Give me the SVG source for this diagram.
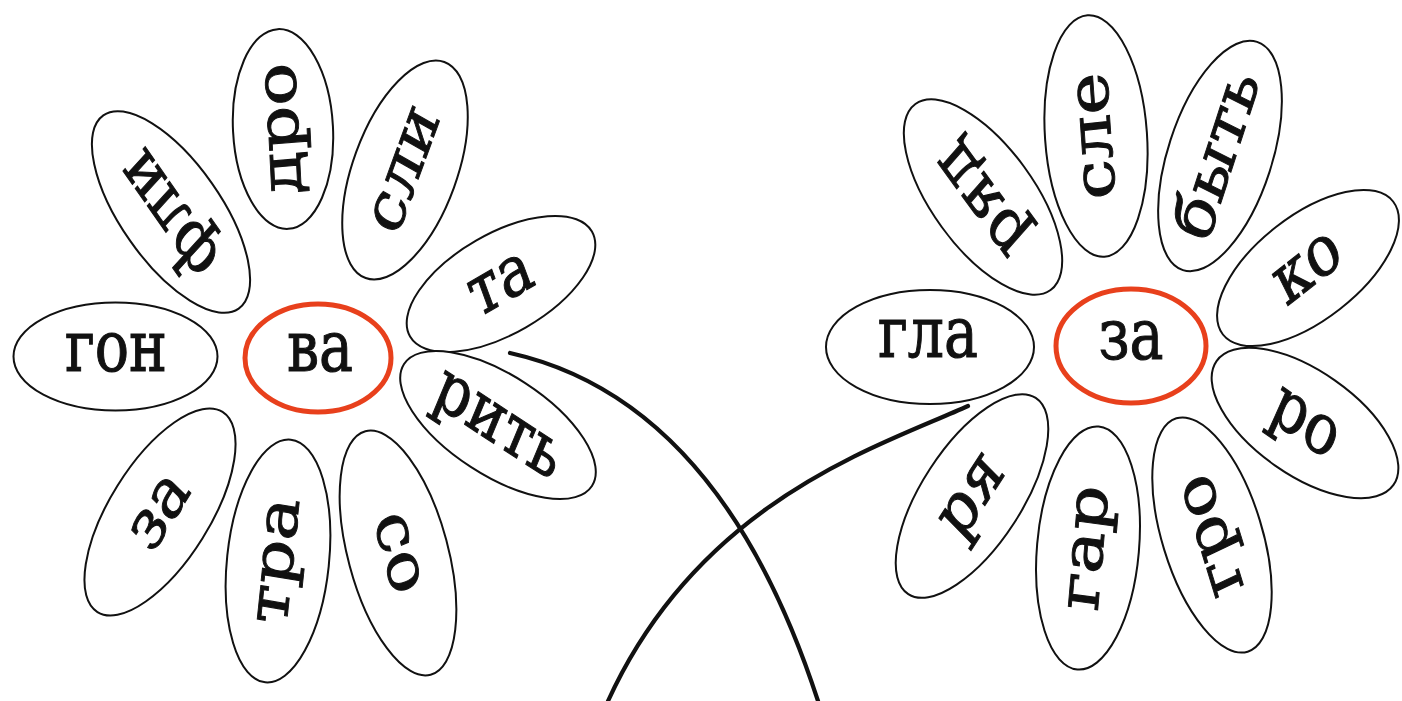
<svg xmlns="http://www.w3.org/2000/svg" width="1402" height="701" viewBox="0 0 1402 701">
<style>
.p{fill:#fff;stroke:#111;stroke-width:2}
.c{fill:#fff;stroke:#e8401c;stroke-width:5}
.t{font-family:"DejaVu Serif","Liberation Serif",serif;font-size:57px;text-anchor:middle;fill:#111;stroke:#111;stroke-width:0.9}
.s{fill:none;stroke:#111;stroke-width:4.2;stroke-linecap:round}
</style>
<rect width="1402" height="701" fill="#fff"/>
<g id="connectors">
<path class="s" d="M510,353 Q720,400 818,701"/>
<path class="s" d="M968,406 C880,446 700,500 608,701"/>
</g>
<g id="flower-va">
<g id="petal-gon"><ellipse class="p" transform="translate(115.5,356.5)" rx="102" ry="54"/><text class="t" transform="translate(116,352.5) scale(1,1.25)" y="15">гон</text></g>
<g id="petal-fli"><ellipse class="p" transform="translate(171,212) rotate(55)" rx="118" ry="50"/><text class="t" transform="translate(171,212) scale(1,1.25) rotate(-131.2)" y="15">фли</text></g>
<g id="petal-dro"><ellipse class="p" transform="translate(283,129) rotate(87)" rx="100" ry="50"/><text class="t" transform="translate(283,129) scale(1,1.25) rotate(-93.7)" y="15">дро</text></g>
<g id="petal-sli"><ellipse class="p" transform="translate(405,170) rotate(-70)" rx="115" ry="52"/><text class="t" transform="translate(405,170) scale(1,1.25) rotate(-65.5)" y="15">сли</text></g>
<g id="petal-ta"><ellipse class="p" transform="translate(501,284) rotate(-30)" rx="105" ry="50"/><text class="t" transform="translate(501,284) scale(1,1.25) rotate(-24.8)" y="15">та</text></g>
<g id="petal-rit"><ellipse class="p" transform="translate(498,425) rotate(33)" rx="112" ry="50"/><text class="t" transform="translate(498,425) scale(1,1.25) rotate(27.5)" y="15">рить</text></g>
<g id="petal-so"><ellipse class="p" transform="translate(398,553) rotate(75)" rx="126" ry="50"/><text class="t" transform="translate(398,553) scale(1,1.25) rotate(71.5)" y="15">со</text></g>
<g id="petal-tra"><ellipse class="p" transform="translate(278,561) rotate(96)" rx="122" ry="51"/><text class="t" transform="translate(278,561) scale(1,1.25) rotate(-82.5)" y="15">тра</text></g>
<g id="petal-za"><ellipse class="p" transform="translate(160,512) rotate(-58)" rx="118" ry="50"/><text class="t" transform="translate(160,512) scale(1,1.25) rotate(-52)" y="15">за</text></g>
<g id="center-va"><ellipse class="c" cx="318" cy="358" rx="73" ry="54"/><text class="t" transform="translate(320,352) scale(1,1.25)" y="15">ва</text></g>
</g>
<g id="flower-za">
<g id="petal-gla"><ellipse class="p" transform="translate(930,347)" rx="104" ry="57"/><text class="t" transform="translate(928,338) scale(1,1.25)" y="15">гла</text></g>
<g id="petal-ryad"><ellipse class="p" transform="translate(983,197) rotate(54)" rx="115" ry="51"/><text class="t" transform="translate(983,198) scale(1,1.25) rotate(-132.3)" y="15">ряд</text></g>
<g id="petal-sle"><ellipse class="p" transform="translate(1096,136) rotate(86)" rx="121" ry="51"/><text class="t" transform="translate(1096,136) scale(1,1.25) rotate(-95)" y="15">сле</text></g>
<g id="petal-byt"><ellipse class="p" transform="translate(1220,156) rotate(-72)" rx="120" ry="52"/><text class="t" transform="translate(1220,156) scale(1,1.25) rotate(-67.9)" y="15">быть</text></g>
<g id="petal-ko"><ellipse class="p" transform="translate(1308,268) rotate(-38)" rx="108" ry="52"/><text class="t" transform="translate(1308,268) scale(1,1.25) rotate(-32)" y="15">ко</text></g>
<g id="petal-ro"><ellipse class="p" transform="translate(1305,423) rotate(35)" rx="108" ry="52"/><text class="t" transform="translate(1305,423) scale(1,1.25) rotate(29.3)" y="15">ро</text></g>
<g id="petal-gro"><ellipse class="p" transform="translate(1212,535) rotate(73)" rx="122" ry="50"/><text class="t" transform="translate(1212,535) scale(1,1.25) rotate(-110.9)" y="15">гро</text></g>
<g id="petal-gar"><ellipse class="p" transform="translate(1088,548) rotate(95)" rx="122" ry="51"/><text class="t" transform="translate(1088,548) scale(1,1.25) rotate(-83.8)" y="15">гар</text></g>
<g id="petal-rya"><ellipse class="p" transform="translate(972,496) rotate(-57)" rx="117" ry="50"/><text class="t" transform="translate(972,496) scale(1,1.25) rotate(-50.9)" y="15">ря</text></g>
<g id="center-za"><ellipse class="c" cx="1131" cy="346" rx="75" ry="57"/><text class="t" transform="translate(1131,340) scale(1,1.25)" y="15">за</text></g>
</g>
</svg>
